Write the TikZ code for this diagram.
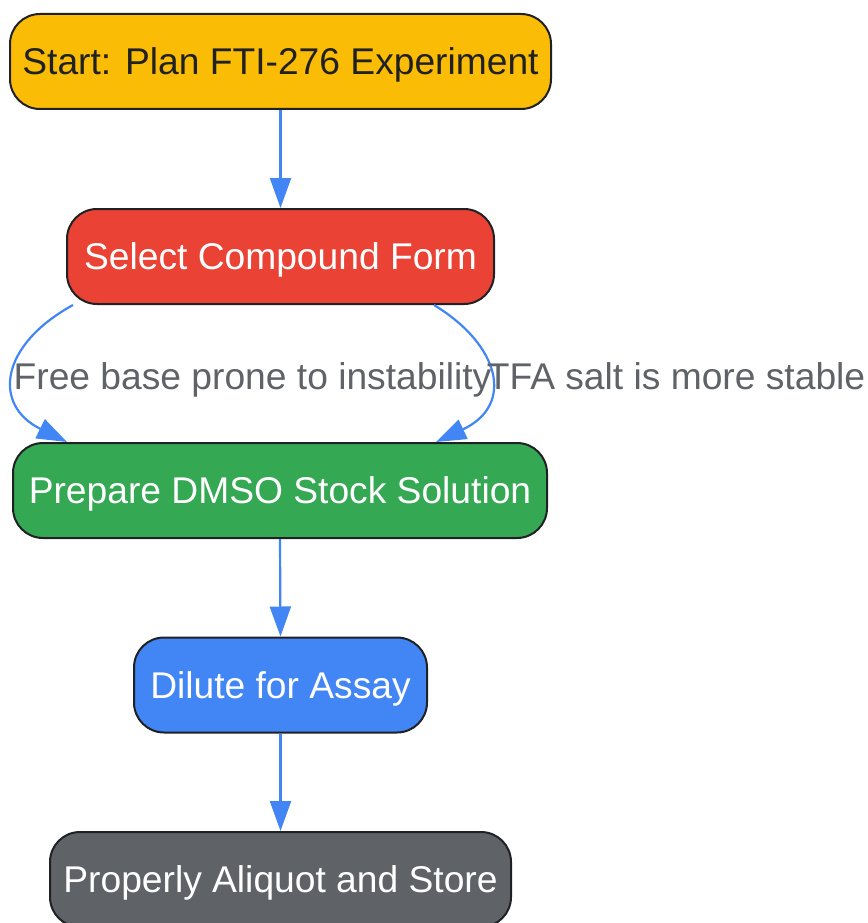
\documentclass[tikz,border=0pt]{standalone}
\usepackage{fontspec}
\setmainfont{Liberation Sans}
\usetikzlibrary{arrows.meta}
\definecolor{cyellow}{HTML}{FBBC05}
\definecolor{cred}{HTML}{EA4335}
\definecolor{cgreen}{HTML}{34A853}
\definecolor{cblue}{HTML}{4285F4}
\definecolor{cgrey}{HTML}{5F6368}
\definecolor{cdark}{HTML}{202124}
\tikzset{
  box/.style={draw=cdark, line width=2pt, rounded corners=30pt, minimum height=95pt, inner sep=0pt,
    font=\fontsize{37.2}{42}\selectfont, text=white, text height=26.6pt, text depth=0pt},
  conn/.style={draw=cblue, line width=2.2pt, -{Triangle[length=30pt,width=21pt]}},
  lbl/.style={text=cgrey, font=\fontsize{37.2}{42}\selectfont, inner sep=0pt, text height=26.6pt, text depth=0pt}
}
\begin{document}
\begin{tikzpicture}[x=1pt,y=-1pt]
\useasboundingbox (0,0) rectangle (867,923);
\node[box, fill=cyellow, text=cdark, minimum width=541pt] (start) at (280.5,61.5) {Start: Plan FTI-276 Experiment};
\node[box, fill=cred, minimum width=427pt] (sel) at (280.5,256.5) {Select Compound Form};
\node[box, fill=cgreen, minimum width=534pt] (prep) at (280,490.5) {Prepare DMSO Stock Solution};
\node[box, fill=cblue, minimum width=293pt] (dil) at (280.5,685) {Dilute for Assay};
\node[box, fill=cgrey, minimum width=461pt] (store) at (280.5,879.5) {Properly Aliquot and Store};
\draw[conn] (start.south) -- (sel.north);
\draw[conn] ([xshift=7pt]sel.south west) .. controls (0,345) and (-8,405) .. ([xshift=55pt]prep.north west);
\draw[conn] ([xshift=-61pt]sel.south east) .. controls (500,345) and (515,405) .. ([xshift=-112pt]prep.north east);
\draw[conn] (prep.south) -- (dil.north);
\draw[conn] (dil.south) -- (store.north);
\node[lbl] (l1) at (252.5,376) {Free base prone to instability};
\node[lbl] (l2) at (676,376) {TFA salt is more stable};
\end{tikzpicture}
\end{document}
